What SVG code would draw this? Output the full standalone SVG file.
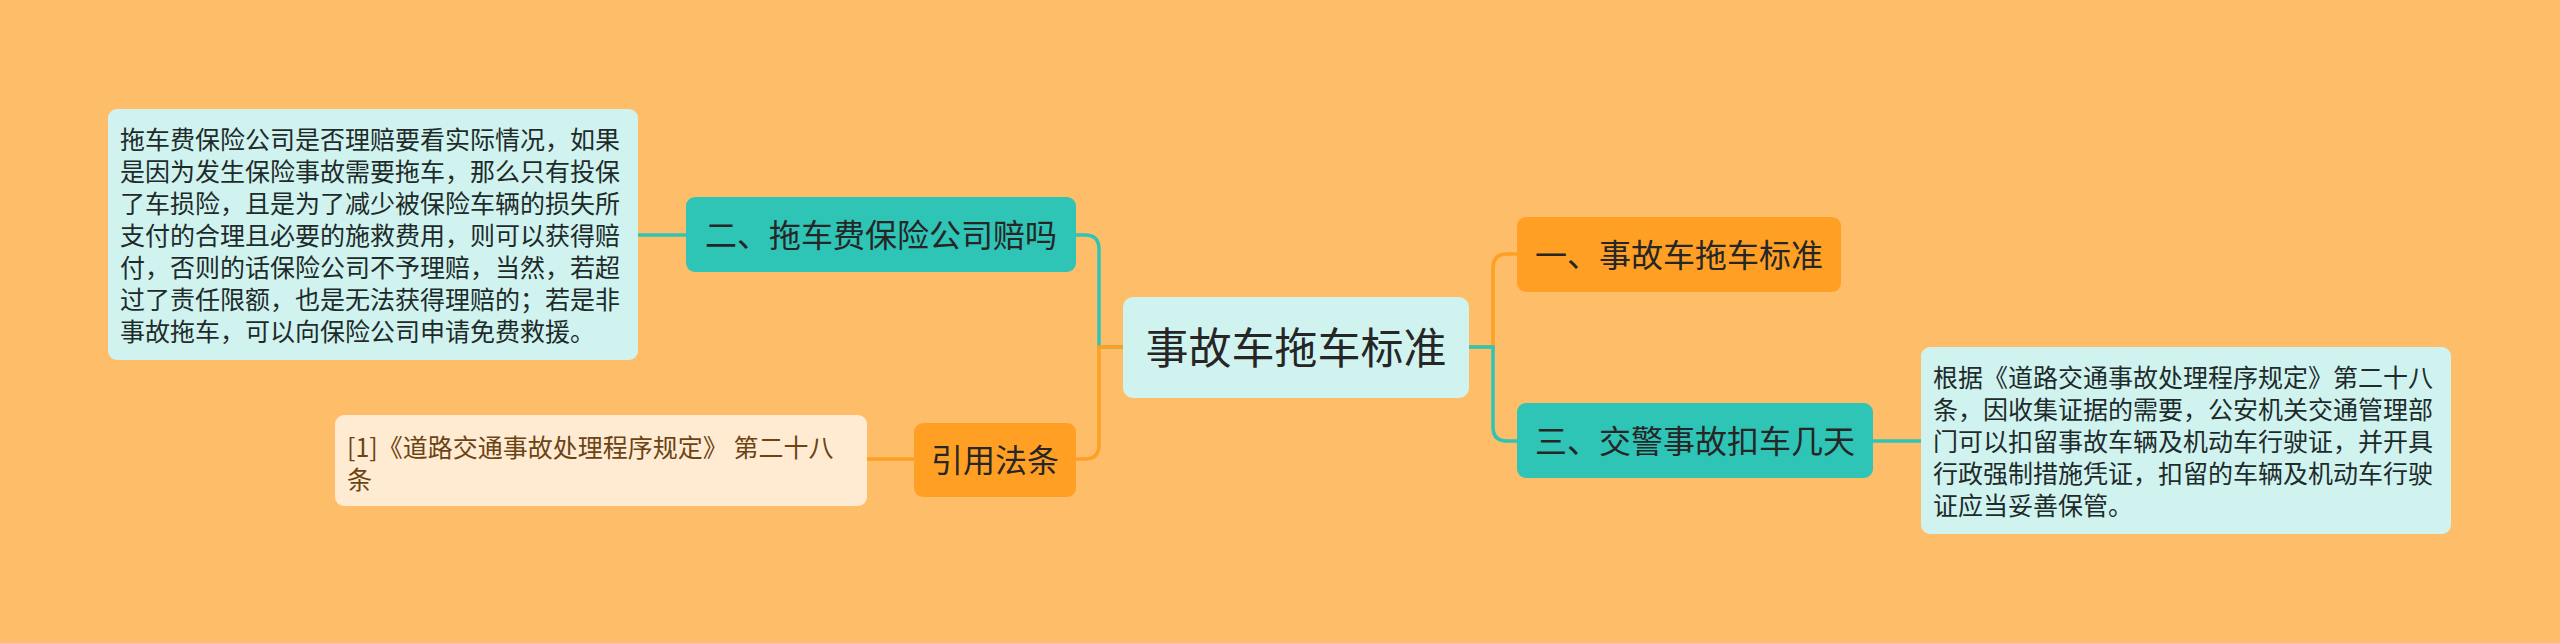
<svg xmlns="http://www.w3.org/2000/svg" width="2560" height="643" viewBox="0 0 2560 643">
<style>
text{font-family:"Noto Sans CJK SC","Noto Sans",sans-serif;}
.teal{fill:#2EC4B6;}
.orange{fill:#FFA024;}
.light{fill:#D1F3EF;}
.cream{fill:#FFEBD1;}
.n{font-size:32px;fill:#262626;text-anchor:middle;}
.root{font-size:43px;fill:#262626;text-anchor:middle;}
.p{font-size:25px;fill:#1E2B2B;}
.ref{font-size:25px;fill:#6B4416;}
.lt{fill:none;stroke:#2EC4B6;stroke-width:3.5;}
.lo{fill:none;stroke:#FFA024;stroke-width:3.5;}
</style>
<rect x="0" y="0" width="2560" height="643" fill="#FEBD69"/>
<g id="connectors">
<path class="lt" d="M1123 347 H1099 V249 Q1099 235 1085 235 H1076"/>
<path class="lo" d="M1123 347 H1099 V445 Q1099 459 1085 459 H1076"/>
<path class="lo" d="M1469 347 H1493 V268 Q1493 254 1507 254 H1517"/>
<path class="lt" d="M1469 347 H1493 V427 Q1493 441 1507 441 H1517"/>
<path class="lt" d="M686 235 H638"/>
<path class="lo" d="M914 459 H867"/>
<path class="lt" d="M1873 441 H1921"/>
</g>
<g id="root">
<rect class="light" x="1123" y="297" width="346" height="101" rx="10"/>
<text class="root" x="1296" y="363.5">事故车拖车标准</text>
</g>
<g id="n1">
<rect class="orange" x="1517" y="217" width="324" height="75" rx="9"/>
<text class="n" x="1679" y="266.5">一、事故车拖车标准</text>
</g>
<g id="n3">
<rect class="teal" x="1517" y="403" width="356" height="75" rx="9"/>
<text class="n" x="1695" y="452.5">三、交警事故扣车几天</text>
</g>
<g id="n3detail">
<rect class="light" x="1921" y="347" width="530" height="187" rx="9"/>
<text class="p" x="1933">
<tspan x="1933" y="386.5">根据《道路交通事故处理程序规定》第二十八</tspan>
<tspan x="1933" y="418.5">条，因收集证据的需要，公安机关交通管理部</tspan>
<tspan x="1933" y="450.5">门可以扣留事故车辆及机动车行驶证，并开具</tspan>
<tspan x="1933" y="482.5">行政强制措施凭证，扣留的车辆及机动车行驶</tspan>
<tspan x="1933" y="514.5">证应当妥善保管。</tspan>
</text>
</g>
<g id="n2">
<rect class="teal" x="686" y="197" width="390" height="75" rx="9"/>
<text class="n" x="881" y="246.5">二、拖车费保险公司赔吗</text>
</g>
<g id="n2detail">
<rect class="light" x="108" y="109" width="530" height="251" rx="9"/>
<text class="p" x="120">
<tspan x="120" y="148.5">拖车费保险公司是否理赔要看实际情况，如果</tspan>
<tspan x="120" y="180.5">是因为发生保险事故需要拖车，那么只有投保</tspan>
<tspan x="120" y="212.5">了车损险，且是为了减少被保险车辆的损失所</tspan>
<tspan x="120" y="244.5">支付的合理且必要的施救费用，则可以获得赔</tspan>
<tspan x="120" y="276.5">付，否则的话保险公司不予理赔，当然，若超</tspan>
<tspan x="120" y="308.5">过了责任限额，也是无法获得理赔的；若是非</tspan>
<tspan x="120" y="340.5">事故拖车，可以向保险公司申请免费救援。</tspan>
</text>
</g>
<g id="nref">
<rect class="orange" x="914" y="423" width="162" height="74" rx="9"/>
<text class="n" x="995" y="472">引用法条</text>
</g>
<g id="nrefdetail">
<rect class="cream" x="335" y="415" width="532" height="91" rx="9"/>
<text class="ref" x="347">
<tspan x="347" y="456.5">[1]《道路交通事故处理程序规定》 第二十八</tspan>
<tspan x="347" y="488.5">条</tspan>
</text>
</g>
</svg>
